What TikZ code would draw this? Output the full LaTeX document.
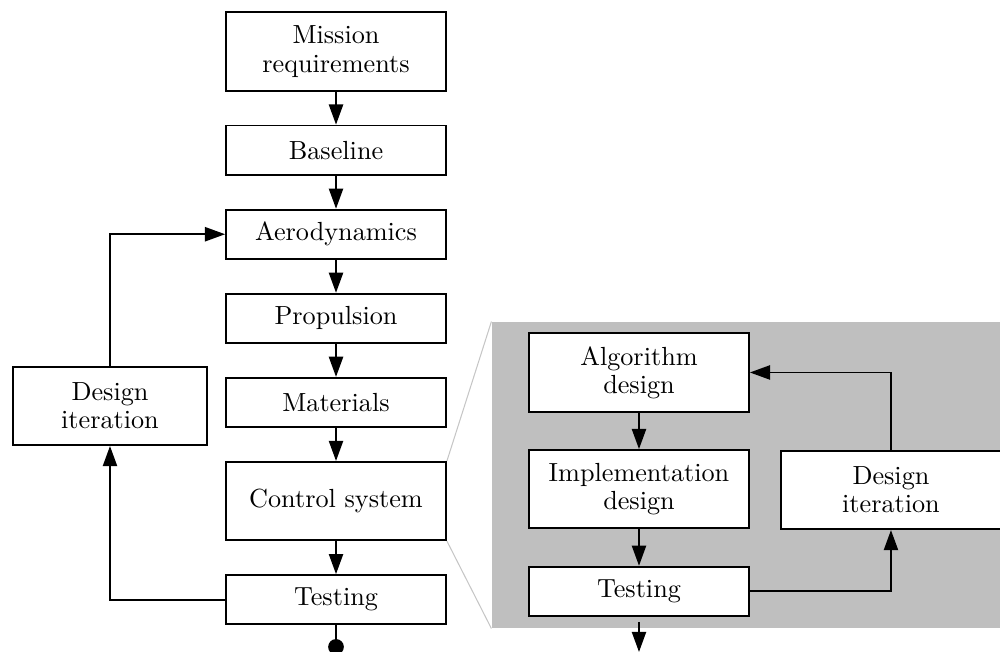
\documentclass[tikz,border=0pt]{standalone}
\usetikzlibrary{positioning,arrows.meta}

\tikzset{
  blk/.style={draw, fill=white, line width=0.7pt, minimum width=2.95cm,
    minimum height=0.66cm, align=center, font=\fontsize{10}{10.8}\selectfont},
  blk2/.style={blk, minimum height=1.05cm},
  flow/.style={-{Triangle[length=0.27cm,width=0.19cm]}, line width=0.7pt},
}

\begin{document}
\begin{tikzpicture}
  \useasboundingbox (0,0) rectangle (13.41,-8.743);
  % design chain
  \node[blk2] (mission) at (4.506,-0.691) {Mission\\requirements};
  \node[blk, below=0.443cm of mission] (base) {Baseline};
  \node[blk, below=0.443cm of base] (aero) {Aerodynamics};
  \node[blk, below=0.443cm of aero] (prop) {Propulsion};
  \node[blk, below=0.443cm of prop] (mat) {Materials};
  \node[blk2, below=0.443cm of mat] (ctrl) {Control system};
  \node[blk, below=0.443cm of ctrl] (test) {Testing};
  \node[blk2, minimum width=2.6cm] (iter) at (1.475,-5.444) {Design\\iteration};
  \coordinate (stop) at (4.506,-8.78);

  \foreach \a/\b in {mission/base, base/aero, aero/prop, prop/mat, mat/ctrl, ctrl/test}
    \draw[flow] (\a) -- (\b);
  \draw[flow] (test.west) -| (iter.south);
  \draw[flow] (iter.north) |- (aero.west);
  \draw[-{Circle[length=0.21cm]}, line width=0.7pt] (test) -- (stop);

  % control system in detail
  \node[fill=lightgray, minimum width=7.35cm, minimum height=4.103cm, inner sep=0] (zoom) at (10.272,-6.370) {};
  \draw[gray!45] (ctrl.north east) -- (zoom.north west);
  \draw[gray!45] (ctrl.south east) -- (zoom.south west);

  \node[blk2] (algo) at (8.569,-4.995) {Algorithm\\design};
  \node[blk2, below=0.49cm of algo] (impl) {Implementation\\design};
  \node[blk, below=0.49cm of impl] (itest) {Testing};
  \node[blk2] (iiter) at (11.948,-6.571) {Design\\iteration};
  \coordinate (istart) at (8.569,-8.34);
  \coordinate (iend) at (8.569,-8.743);

  \draw[flow] (algo) -- (impl);
  \draw[flow] (impl) -- (itest);
  \draw[flow] (itest.east) -| (iiter.south);
  \draw[flow] (iiter.north) |- (algo.east);
  \draw[flow] (istart) -- (iend);
\end{tikzpicture}
\end{document}
